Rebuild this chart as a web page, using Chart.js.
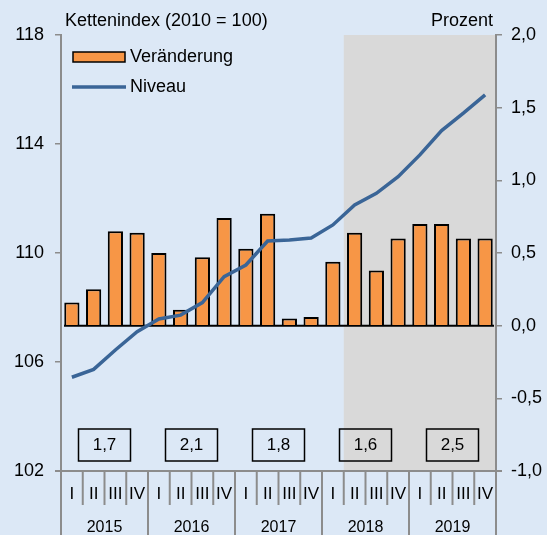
<!DOCTYPE html>
<html lang="de">
<head>
<meta charset="UTF-8">
<title>Kettenindex und Veränderung</title>
<script src="https://cdn.jsdelivr.net/npm/chart.js"></script>
<style>
  html, body { margin: 0; padding: 0; background: #dce8f6; }
  canvas { display: block; }
</style>
</head>
<body>
<canvas id="bip" width="547" height="535"></canvas>
<script>
// Jahre und Quartale
const years = ['2015', '2016', '2017', '2018', '2019'];
const quarters = ['I', 'II', 'III', 'IV'];
const labels = years.flatMap(y => quarters.map(q => y + ' ' + q));

// Veränderung gegenüber Vorquartal in % (rechte Achse)
const veraenderung = [0.16, 0.25, 0.65, 0.64, 0.50, 0.11, 0.47, 0.74, 0.53, 0.77,
                      0.05, 0.06, 0.44, 0.64, 0.38, 0.60, 0.70, 0.70, 0.60, 0.60];
// Niveau, Kettenindex 2010 = 100 (linke Achse)
const niveau = [105.44, 105.73, 106.44, 107.11, 107.58, 107.72, 108.18, 109.13, 109.56, 110.44,
                110.48, 110.55, 111.03, 111.76, 112.19, 112.80, 113.60, 114.49, 115.13, 115.80];
// Jahresraten in %
const jahresraten = [1.7, 2.1, 1.8, 1.6, 2.5];
// grau hinterlegt ab
const prognoseAb = '2018 II';

const axisGray = '#8c8c8c';
const orange = '#f79646';
const blau = '#3a6597';
const fontFamily = '"Liberation Sans", Arial, sans-serif';
const komma = v => v.toFixed(1).replace('.', ',');

// Hintergrund, Schattierung, Achse unten, Kästen, Legende
const extras = {
  id: 'extras',
  beforeDraw(chart) {
    const { ctx, chartArea: a, scales: { x } } = chart;
    ctx.save();
    ctx.fillStyle = '#dce8f6';
    ctx.fillRect(0, 0, chart.width, chart.height);
    const w = (a.right - a.left) / labels.length;
    const x0 = x.getPixelForValue(labels.indexOf(prognoseAb)) - w / 2;
    ctx.fillStyle = '#d9d9d9';
    ctx.fillRect(x0, a.top, a.right - x0, a.bottom - a.top);
    ctx.restore();
  },
  beforeDatasetsDraw(chart) {
    const { ctx, chartArea: a, scales: { y2 } } = chart;
    const y0 = y2.getPixelForValue(0);
    ctx.save();
    ctx.strokeStyle = '#000';
    ctx.lineWidth = 2;
    ctx.beginPath();
    ctx.moveTo(a.left + 3, y0);
    ctx.lineTo(a.right - 2, y0);
    ctx.stroke();
    ctx.restore();
  },
  afterDraw(chart) {
    const { ctx, chartArea: a, scales: { x } } = chart;
    const w = (a.right - a.left) / labels.length;
    const bottom = chart.height;
    ctx.save();

    // Achsen nach unten verlängern, x-Achse
    ctx.strokeStyle = axisGray;
    ctx.lineWidth = 2;
    ctx.beginPath();
    ctx.moveTo(a.left - 6, a.bottom);
    ctx.lineTo(a.right + 6, a.bottom);
    ctx.moveTo(a.left, a.bottom);
    ctx.lineTo(a.left, bottom);
    ctx.moveTo(a.right, a.bottom);
    ctx.lineTo(a.right, bottom);
    labels.forEach((l, i) => {
      if (i === 0) return;
      const xb = x.getPixelForValue(i) - w / 2;
      ctx.moveTo(xb, a.bottom);
      ctx.lineTo(xb, i % 4 === 0 ? bottom : a.bottom + 34);
    });
    ctx.stroke();

    // Quartals- und Jahresbeschriftung
    ctx.fillStyle = '#000';
    ctx.textAlign = 'center';
    ctx.textBaseline = 'middle';
    ctx.font = '17px ' + fontFamily;
    labels.forEach((l, i) => {
      ctx.fillText(quarters[i % 4], x.getPixelForValue(i), a.bottom + 23);
    });
    ctx.font = '16px ' + fontFamily;
    years.forEach((y, j) => {
      const xc = (x.getPixelForValue(j * 4) + x.getPixelForValue(j * 4 + 3)) / 2;
      ctx.fillText(y, xc, a.bottom + 57);
    });

    // Jahresraten in Kästen
    ctx.font = '17px ' + fontFamily;
    ctx.strokeStyle = '#000';
    ctx.lineWidth = 1.5;
    jahresraten.forEach((v, j) => {
      const xc = (x.getPixelForValue(j * 4) + x.getPixelForValue(j * 4 + 3)) / 2;
      ctx.strokeRect(xc - 26, a.bottom - 42, 52, 32);
      ctx.fillText(komma(v), xc, a.bottom - 26);
    });

    // Achsentitel
    ctx.font = '18px ' + fontFamily;
    ctx.textAlign = 'left';
    ctx.fillText('Kettenindex (2010 = 100)', 65, 21);
    ctx.textAlign = 'right';
    ctx.fillText('Prozent', 493, 21);

    // Legende
    ctx.textAlign = 'left';
    ctx.fillStyle = orange;
    ctx.fillRect(73, 52, 52, 10);
    ctx.strokeRect(73, 52, 52, 10);
    ctx.strokeStyle = blau;
    ctx.lineWidth = 3.5;
    ctx.beginPath();
    ctx.moveTo(72, 87);
    ctx.lineTo(126, 87);
    ctx.stroke();
    ctx.fillStyle = '#000';
    ctx.fillText('Veränderung', 130, 57);
    ctx.fillText('Niveau', 130, 87);
    ctx.restore();
  }
};

const tickFont = { family: fontFamily, size: 18 };

new Chart(document.getElementById('bip'), {
  type: 'bar',
  data: {
    labels: labels,
    datasets: [
      {
        type: 'line',
        label: 'Niveau',
        data: niveau,
        yAxisID: 'y',
        borderColor: blau,
        borderWidth: 3.5,
        pointRadius: 0,
        tension: 0,
        order: 0
      },
      {
        type: 'bar',
        label: 'Veränderung',
        data: veraenderung,
        yAxisID: 'y2',
        backgroundColor: orange,
        borderColor: '#000',
        borderWidth: 2,
        categoryPercentage: 1,
        barPercentage: 0.7,
        order: 1
      }
    ]
  },
  options: {
    responsive: false,
    animation: false,
    layout: { padding: { left: 0, right: 0, top: 35, bottom: 64 } },
    plugins: { legend: { display: false }, tooltip: { enabled: false } },
    scales: {
      x: { display: false, offset: true },
      y: {
        position: 'left',
        min: 102, max: 118,
        ticks: { stepSize: 4, padding: 11, color: '#000', font: tickFont },
        grid: { drawOnChartArea: false, tickLength: 6, color: axisGray, lineWidth: 1.5 },
        border: { color: axisGray, width: 2 },
        afterFit: s => { s.width = 61; }
      },
      y2: {
        position: 'right',
        min: -1, max: 2,
        ticks: { stepSize: 0.5, padding: 9, color: '#000', font: tickFont, callback: v => komma(v) },
        grid: { drawOnChartArea: false, tickLength: 6, color: axisGray, lineWidth: 1.5 },
        border: { color: axisGray, width: 2 },
        afterFit: s => { s.width = 51; }
      }
    }
  },
  plugins: [extras]
});
</script>
</body>
</html>
